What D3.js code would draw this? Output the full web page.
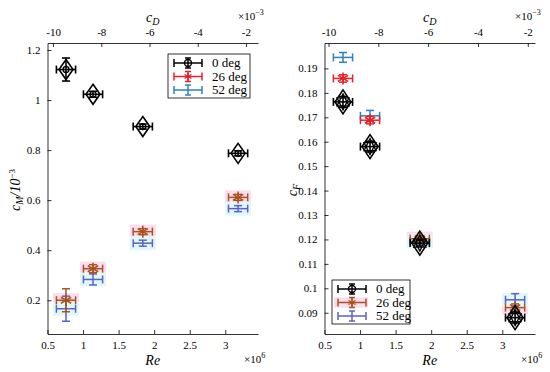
<!DOCTYPE html>
<html>
<head>
<meta charset="utf-8">
<script src="https://cdn.jsdelivr.net/npm/d3@7"></script>
<style>
  body { margin: 0; background: #fff; }
  text { font-family: "Liberation Serif", serif !important; fill: #000; }
  .axis path, .axis line { stroke: #000; stroke-width: 0.8; }
  .axis text { font-size: 11px; }
</style>
</head>
<body>
<svg id="chart" width="550" height="372"></svg>
<script>
// Reynolds number (x10^6) of the four runs
const re = [0.76, 1.14, 1.84, 3.18]
const reErr = [0.135, 0.135, 0.135, 0.135]
const series = ['0 deg', '26 deg', '52 deg']

// moment coefficient cM / 10^-3
const cm0 = [1.122, 1.023, 0.894, 0.787]
const cm26 = [0.200, 0.326, 0.474, 0.611]
const cm52 = [0.166, 0.283, 0.428, 0.566]
const cm0Err = [0.046, 0.012, 0.010, 0.010]
const cm26Err = [0.046, 0.016, 0.012, 0.012]
const cm52Err = [0.050, 0.022, 0.012, 0.012]

// force coefficient cF
const cf0 = [0.1763, 0.1580, 0.1185, 0.0880]
const cf26 = [0.1859, 0.1688, 0.1203, 0.0921]
const cf52 = [0.1945, 0.1706, 0.1192, 0.0953]
const cf0Err = [0.0022, 0.0022, 0.0012, 0.0022]
const cf26Err = [0.0015, 0.0015, 0.0012, 0.0015]
const cf52Err = [0.0020, 0.0022, 0.0012, 0.0025]

const reTicks = [0.5, 1, 1.5, 2, 2.5, 3]
const reLabels = ['0.5', '1', '1.5', '2', '2.5', '3']
const cdTicks = [-10, -8, -6, -4, -2]
const cmTicks = [0.2, 0.4, 0.6, 0.8, 1, 1.2]
const cmLabels = ['0.2', '0.4', '0.6', '0.8', '1', '1.2']
const cfTicks = [0.09, 0.1, 0.11, 0.12, 0.13, 0.14, 0.15, 0.16, 0.17, 0.18, 0.19]
const cfLabels = ['0.09', '0.1', '0.11', '0.12', '0.13', '0.14', '0.15', '0.16', '0.17', '0.18', '0.19']

const svg = d3.select('#chart')

const colours = {
    black: '#000',
    red: '#e8202a',
    blue: '#2f80bd',
    brown: '#a8541f',
    violet: '#5862c8',
    pink: '#fcdcee',
    cyan: '#e2f8f8'
}

function drawPanel(opt) {
    const x = d3.scaleLinear().domain([0.5, 3.46]).range([opt.left, opt.right])
    const xTop = d3.scaleLinear().domain(opt.cdDomain).range([opt.left, opt.right])
    const y = d3.scaleLinear().domain(opt.yDomain).range([334, 43])

    const g = svg.append('g')

    // shaded bands behind the coloured series
    opt.shaded.forEach(i => {
        [[opt.s26, colours.pink], [opt.s52, colours.cyan]].forEach(([s, c]) => {
            g.append('rect')
                .attr('x', x(re[i]) - 13).attr('y', y(s[i]) - 7)
                .attr('width', 26).attr('height', 14)
                .attr('fill', c)
        })
    })

    function errorCross(cx, cy, ex, ey, colour, w) {
        const px0 = x(cx - ex), px1 = x(cx + ex)
        const py0 = y(cy - ey), py1 = y(cy + ey)
        const X = x(cx), Y = y(cy)
        const lines = [
            [px0, Y, px1, Y], [px0, Y - 4, px0, Y + 4], [px1, Y - 4, px1, Y + 4],
            [X, py0, X, py1], [X - 4, py0, X + 4, py0], [X - 4, py1, X + 4, py1]
        ]
        lines.forEach(l => g.append('line')
            .attr('x1', l[0]).attr('y1', l[1]).attr('x2', l[2]).attr('y2', l[3])
            .attr('stroke', colour).attr('stroke-width', w))
    }

    function asterisk(X, Y, colour, r) {
        [0, 60, 120].forEach(a => {
            const dx = r * Math.sin(a * Math.PI / 180), dy = r * Math.cos(a * Math.PI / 180)
            g.append('line').attr('x1', X - dx).attr('y1', Y - dy).attr('x2', X + dx).attr('y2', Y + dy)
                .attr('stroke', colour).attr('stroke-width', 1.6)
        })
    }

    // 52 deg (no marker)
    re.forEach((r, i) => {
        const c = opt.shaded.includes(i) ? colours.violet : colours.blue
        errorCross(r, opt.s52[i], reErr[i], opt.e52[i], c, 1.5)
    })
    // 26 deg (asterisk)
    re.forEach((r, i) => {
        const c = opt.shaded.includes(i) ? colours.brown : colours.red
        errorCross(r, opt.s26[i], reErr[i], opt.e26[i], c, 1.5)
        asterisk(x(r), y(opt.s26[i]), c, 6)
    })
    // 0 deg (diamond + circle)
    re.forEach((r, i) => {
        errorCross(r, opt.s0[i], reErr[i], opt.e0[i], colours.black, 1.6)
        const X = x(r), Y = y(opt.s0[i])
        g.append('path')
            .attr('d', `M${X},${Y - opt.dh}L${X + opt.dw},${Y}L${X},${Y + opt.dh}L${X - opt.dw},${Y}Z`)
            .attr('fill', 'none').attr('stroke', '#000').attr('stroke-width', 1.6)
        if (opt.hex) {
            g.append('path')
                .attr('d', `M${X},${Y - 8}L${X + 6},${Y + 4}L${X - 6},${Y + 4}Z M${X},${Y + 8}L${X + 6},${Y - 4}L${X - 6},${Y - 4}Z`)
                .attr('fill', 'none').attr('stroke', '#000').attr('stroke-width', 1.3)
        } else {
            g.append('circle').attr('cx', X).attr('cy', Y).attr('r', 3)
                .attr('fill', 'none').attr('stroke', '#000').attr('stroke-width', 1.3)
        }
    })

    // axes
    g.append('g').attr('class', 'axis').attr('transform', 'translate(0,334)')
        .call(d3.axisBottom(x).tickValues(reTicks).tickFormat((d, i) => reLabels[i])
            .tickSizeInner(-4).tickSizeOuter(0).tickPadding(7))
    g.append('g').attr('class', 'axis').attr('transform', 'translate(0,43)')
        .call(d3.axisTop(xTop).tickValues(cdTicks).tickFormat(d => '-' + Math.abs(d))
            .tickSizeInner(-4).tickSizeOuter(0).tickPadding(7))
    g.append('g').attr('class', 'axis').attr('transform', `translate(${opt.left},0)`)
        .call(d3.axisLeft(y).tickValues(opt.yTicks).tickFormat((d, i) => opt.yLabels[i])
            .tickSizeInner(-4).tickSizeOuter(0).tickPadding(7))

    const mid = (opt.left + opt.right) / 2
    // axis titles
    g.append('text').attr('x', mid).attr('y', 365).attr('text-anchor', 'middle')
        .attr('font-size', 14).attr('font-style', 'italic').text('Re')
    g.append('text').attr('x', opt.right - 14).attr('y', 363).attr('font-size', 11)
        .html('×10<tspan dy="-5" font-size="8">6</tspan>')
    g.append('text').attr('x', mid).attr('y', 22).attr('text-anchor', 'middle')
        .attr('font-size', 14).attr('font-style', 'italic')
        .html('c<tspan dy="3" font-size="10">D</tspan>')
    g.append('text').attr('x', opt.right - 20).attr('y', 20).attr('font-size', 11)
        .html('×10<tspan dy="-5" font-size="8">−3</tspan>')
    g.append('text').attr('transform', `translate(${opt.left - 28},190) rotate(-90)`)
        .attr('text-anchor', 'middle').attr('font-size', 14).attr('font-style', 'italic')
        .html(opt.yTitle)

    // legend
    const L = opt.legend
    g.append('rect').attr('x', L.x).attr('y', L.y).attr('width', L.w).attr('height', L.h)
        .attr('fill', '#fff').attr('stroke', '#000').attr('stroke-width', 0.8)
    series.forEach((s, i) => {
        const cy = L.y + 9 + i * 13.5
        const cx = L.x + 20
        const c = L.colours[i]
        if (i === 1 && L.colours[1] === colours.brown) {
            g.append('rect').attr('x', L.x + 2).attr('y', cy - 5).attr('width', 34).attr('height', 10)
                .attr('fill', colours.pink)
        }
        const ls = [[cx - 14, cy, cx + 14, cy], [cx - 14, cy - 4, cx - 14, cy + 4], [cx + 14, cy - 4, cx + 14, cy + 4],
            [cx, cy - 5, cx, cy + 5], [cx - 3, cy - 5, cx + 3, cy - 5], [cx - 3, cy + 5, cx + 3, cy + 5]]
        ls.forEach(l => g.append('line').attr('x1', l[0]).attr('y1', l[1]).attr('x2', l[2]).attr('y2', l[3])
            .attr('stroke', c).attr('stroke-width', 1.5))
        if (i === 0) g.append('circle').attr('cx', cx).attr('cy', cy).attr('r', 3.5)
            .attr('fill', 'none').attr('stroke', c).attr('stroke-width', 1.4)
        if (i === 1) {
            [0, 60, 120].forEach(a => {
                const dx = 4 * Math.sin(a * Math.PI / 180), dy = 4 * Math.cos(a * Math.PI / 180)
                g.append('line').attr('x1', cx - dx).attr('y1', cy - dy).attr('x2', cx + dx).attr('y2', cy + dy)
                    .attr('stroke', c).attr('stroke-width', 1.4)
            })
        }
        g.append('text').attr('x', L.x + 44).attr('y', cy + 4).attr('font-size', 13).text(s)
    })
}

drawPanel({
    left: 47.5, right: 258,
    cdDomain: [-10.23, -1.5],
    yDomain: [0.065, 1.228],
    yTicks: cmTicks, yLabels: cmLabels,
    s0: cm0, s26: cm26, s52: cm52, e0: cm0Err, e26: cm26Err, e52: cm52Err,
    shaded: [0, 1, 2, 3],
    dw: 7, dh: 10, hex: false,
    yTitle: 'c<tspan dy="3" font-size="10">M</tspan><tspan dy="-3">/10</tspan><tspan dy="-5" font-size="9" font-style="normal">−3</tspan>',
    legend: {x: 168, y: 54, w: 82, h: 44, colours: [colours.black, colours.red, colours.blue]}
})

drawPanel({
    left: 324.5, right: 535,
    cdDomain: [-10.16, -1.71],
    yDomain: [0.0813, 0.2004],
    yTicks: cfTicks, yLabels: cfLabels,
    s0: cf0, s26: cf26, s52: cf52, e0: cf0Err, e26: cf26Err, e52: cf52Err,
    shaded: [2, 3],
    dw: 8, dh: 12, hex: true,
    yTitle: 'c<tspan dy="3" font-size="10">F</tspan>',
    legend: {x: 332, y: 280, w: 78, h: 44, colours: [colours.black, colours.brown, colours.violet]}
})
</script>
</body>
</html>
